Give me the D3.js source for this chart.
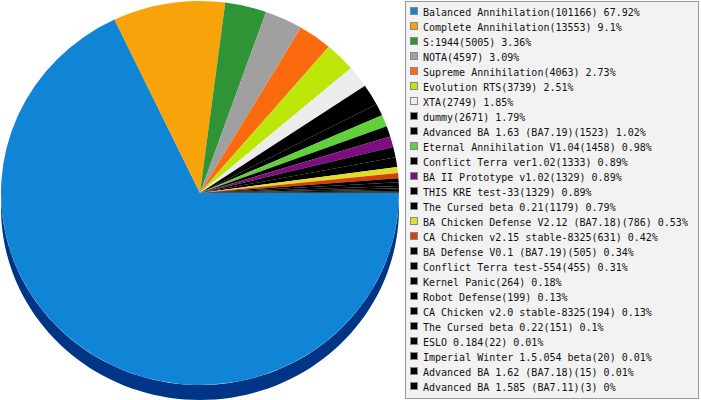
<!DOCTYPE html>
<html>
<head>
<meta charset="utf-8">
<script src="https://cdn.jsdelivr.net/npm/d3@7/dist/d3.min.js"></script>
<style>
  html, body { margin: 0; padding: 0; background: #fff; }
  svg { display: block; }
</style>
</head>
<body>
<svg id="chart" width="701" height="400"></svg>
<script>
const names = [
  "Balanced Annihilation", "Complete Annihilation", "S:1944", "NOTA",
  "Supreme Annihilation", "Evolution RTS", "XTA", "dummy",
  "Advanced BA 1.63 (BA7.19)", "Eternal Annihilation V1.04", "Conflict Terra ver1.02",
  "BA II Prototype v1.02", "THIS KRE test-33", "The Cursed beta 0.21",
  "BA Chicken Defense V2.12 (BA7.18)", "CA Chicken v2.15 stable-8325",
  "BA Defense V0.1 (BA7.19)", "Conflict Terra test-554", "Kernel Panic",
  "Robot Defense", "CA Chicken v2.0 stable-8325", "The Cursed beta 0.22",
  "ESLO 0.184", "Imperial Winter 1.5.054 beta", "Advanced BA 1.62 (BA7.18)",
  "Advanced BA 1.585 (BA7.11)"
];
const values = [
  101166, 13553, 5005, 4597, 4063, 3739, 2749, 2671, 1523, 1458, 1333, 1329, 1329,
  1179, 786, 631, 505, 455, 264, 199, 194, 151, 22, 20, 15, 3
];
const colors = [
  "#1085d5", "#f9a30a", "#2f9436", "#a0a0a0", "#fc6a10", "#bde609", "#ececec", "#000000",
  "#000000", "#61d13b", "#000000", "#7f0d80", "#000000", "#000000", "#dfdf2a", "#d93e07",
  "#000000", "#000000", "#000000", "#000000", "#000000", "#000000", "#000000", "#000000",
  "#000000", "#000000"
];

const svg = d3.select("#chart");
const cx = 200, cy = 193, rx = 199, ry = 192, depth = 15;
const total = d3.sum(values);
const data = names.map((n, i) => ({ name: n, value: values[i], color: colors[i] }));

const pie = d3.pie().value(d => d.value).sort(null)
  .startAngle(Math.PI / 2).endAngle(Math.PI / 2 + 2 * Math.PI);
const arcs = pie(data);

// Side (extrusion) for parts of slices in the lower half (d3 angles PI/2..3PI/2)
function pt(a, dy) {
  return [cx + rx * Math.sin(a), cy + dy - ry * Math.cos(a)];
}
const sideG = svg.append("g");
arcs.forEach(a => {
  const s = Math.max(a.startAngle, Math.PI / 2);
  const e = Math.min(a.endAngle, 3 * Math.PI / 2);
  if (e <= s) return;
  const n = 80;
  const top = d3.range(n + 1).map(k => pt(s + (e - s) * k / n, 0));
  const bot = d3.range(n + 1).map(k => pt(e - (e - s) * k / n, depth));
  const c = d3.color(a.data.color);
  const dark = d3.rgb(Math.max(0, c.r - 16), Math.max(0, c.g - 80), Math.max(0, c.b - 80));
  sideG.append("path")
    .attr("d", d3.line()(top.concat(bot)) + "Z")
    .attr("fill", a.data.color === "#1085d5" ? "#003585" : dark.formatHex());
});

// Top face
const arc = d3.arc().innerRadius(0).outerRadius(1);
svg.append("g")
  .attr("transform", `translate(${cx},${cy}) scale(${rx},${ry})`)
  .selectAll("path")
  .data(arcs)
  .join("path")
  .attr("d", arc)
  .attr("fill", d => d.data.color);

// Legend
const lg = svg.append("g");
lg.append("rect")
  .attr("x", 405.5).attr("y", 1.5).attr("width", 293).attr("height", 397)
  .attr("fill", "#f2f2f2").attr("stroke", "#999");

const rowY = d3.scaleLinear().domain([0, 1]).range([12.3, 27.3]);
const rows = lg.selectAll("g.row").data(data).join("g")
  .attr("class", "row")
  .attr("transform", (d, i) => `translate(0,${rowY(i)})`);
rows.append("rect")
  .attr("x", 410.5).attr("y", -4.5).attr("width", 7).attr("height", 7)
  .attr("fill", d => d.color).attr("stroke", "#888").attr("stroke-width", 1)
  .attr("shape-rendering", "crispEdges");
rows.append("text")
  .attr("x", 423).attr("y", 3.6)
  .attr("font-family", "DejaVu Sans Mono, monospace")
  .attr("font-size", "10px")
  .attr("fill", "#111")
  .text(d => `${d.name}(${d.value}) ${Math.round(d.value / total * 10000) / 100}%`);
</script>
</body>
</html>
